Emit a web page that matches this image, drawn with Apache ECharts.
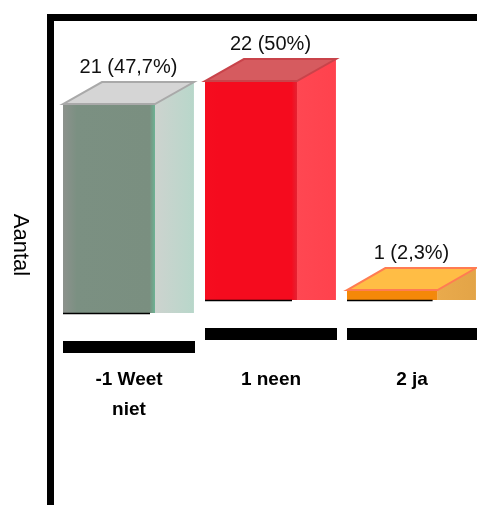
<!DOCTYPE html>
<html>
<head>
<meta charset="utf-8">
<script src="https://cdn.jsdelivr.net/npm/echarts@6/dist/echarts.min.js"></script>
<style>
html,body{margin:0;padding:0;background:#fff;}
#main{width:477px;height:505px;}
</style>
</head>
<body>
<div id="main"></div>
<script>
const categories = ['-1 Weet niet', '1 neen', '2 ja'];
const counts = [21, 22, 1];
const yAxisName = 'Aantal';

const total = counts.reduce((a, b) => a + b, 0);
const pctText = v => String(Number((v / total * 100).toFixed(1))).replace('.', ',');

const palettes = [
  {front: ['#8d928d', '#7b9082', '#7a8f80', '#6cb394'], side: ['#cdd3cf', '#b8d7ca'], top: '#d5d5d5', edge: '#a9a9a9'},
  {front: ['#f50d1f', '#f50b1e', '#f50b1e', '#e52232'], side: ['#ff4752', '#ff424d'], top: '#d65b5f', edge: '#c9434a'},
  {front: ['#f58808', '#f58808', '#f58808', '#f08a10'], side: ['#e9aa4c', '#e3a447'], top: '#ffbd45', edge: '#ff7c52'}
];

const grids = [], xAxes = [], yAxes = [], series = [];
const unitPx = 9.95;
const bases = [313, 300, 300];
categories.forEach((c, i) => {
  const base = bases[i];
  const height = 22 * unitPx;
  grids.push({left: 63 + 142 * i, width: 132, top: base - height, height: height});
  xAxes.push({
    type: 'category', gridIndex: i, data: [c],
    offset: 34,
    axisLine: {show: true, onZero: false, lineStyle: {color: '#000', width: 12, cap: 'butt'}},
    axisTick: {show: false},
    axisLabel: {
      margin: i === 0 ? 18 : 31,
      color: '#000', fontWeight: 'bold', fontSize: 19, lineHeight: 30,
      fontFamily: 'Liberation Sans, Arial, sans-serif',
      formatter: v => v.replace('Weet ', 'Weet\n')
    }
  });
  yAxes.push({type: 'value', gridIndex: i, min: 0, max: 22, show: false});
  const pal = palettes[i];
  series.push({
    type: 'custom', xAxisIndex: i, yAxisIndex: i, clip: false,
    data: [[c, counts[i]]],
    renderItem: function (params, api) {
      const b = api.coord([api.value(0), 0]);
      const t = api.coord([api.value(0), api.value(1)]);
      const bw = api.size([1, 0])[0];
      const x0 = b[0] - bw / 2;
      const fw = bw * 0.697;
      const dx = bw * 0.295;
      const dy = 22;
      const xf = x0 + fw;
      const lg = (stops) => ({type: 'linear', x: 0, y: 0, x2: 1, y2: 0,
        colorStops: stops.map((col, k) => ({offset: k === stops.length - 1 ? 1 : (k === 0 ? 0 : (k === 1 ? 0.15 : 0.94)), color: col}))});
      return {
        type: 'group',
        children: [
          {type: 'polygon', shape: {points: [[xf, t[1]], [xf + dx, t[1] - dy], [xf + dx, b[1]], [xf, b[1]]]},
            style: {fill: {type: 'linear', x: 0, y: 0, x2: 1, y2: 0, colorStops: [{offset: 0, color: pal.side[0]}, {offset: 1, color: pal.side[1]}]}}},
          {type: 'rect', shape: {x: x0, y: t[1], width: fw, height: b[1] - t[1]},
            style: {fill: lg(pal.front)}},
          {type: 'polygon', shape: {points: [[x0, t[1]], [x0 + dx, t[1] - dy], [xf + dx, t[1] - dy], [xf, t[1]]]},
            style: {fill: pal.top, stroke: pal.edge, lineWidth: 2}},
          {type: 'line', shape: {x1: x0, y1: b[1] + 0.5, x2: xf - 5, y2: b[1] + 0.5},
            style: {stroke: '#000', lineWidth: 1.5}},
          {type: 'text', x: x0 + (fw + dx) / 2, y: t[1] - dy - 15,
            style: {text: api.value(1) + ' (' + pctText(api.value(1)) + '%)', align: 'center', verticalAlign: 'middle',
              fill: '#111', fontSize: 20, fontFamily: 'Liberation Sans, Arial, sans-serif'}}
        ]
      };
    }
  });
});

const chart = echarts.init(document.getElementById('main'));
chart.setOption({
  animation: false,
  backgroundColor: '#fff',
  grid: grids,
  xAxis: xAxes,
  yAxis: yAxes,
  series: series,
  graphic: [
    {type: 'rect', shape: {x: 47, y: 14, width: 7, height: 491}, style: {fill: '#000'}},
    {type: 'rect', shape: {x: 47, y: 14, width: 430, height: 7}, style: {fill: '#000'}},
    {type: 'text', x: 20, y: 245, rotation: -Math.PI / 2,
      style: {text: yAxisName, align: 'center', verticalAlign: 'middle', fill: '#000', fontSize: 22,
        fontFamily: 'Liberation Sans, Arial, sans-serif'}}
  ]
});
</script>
</body>
</html>
